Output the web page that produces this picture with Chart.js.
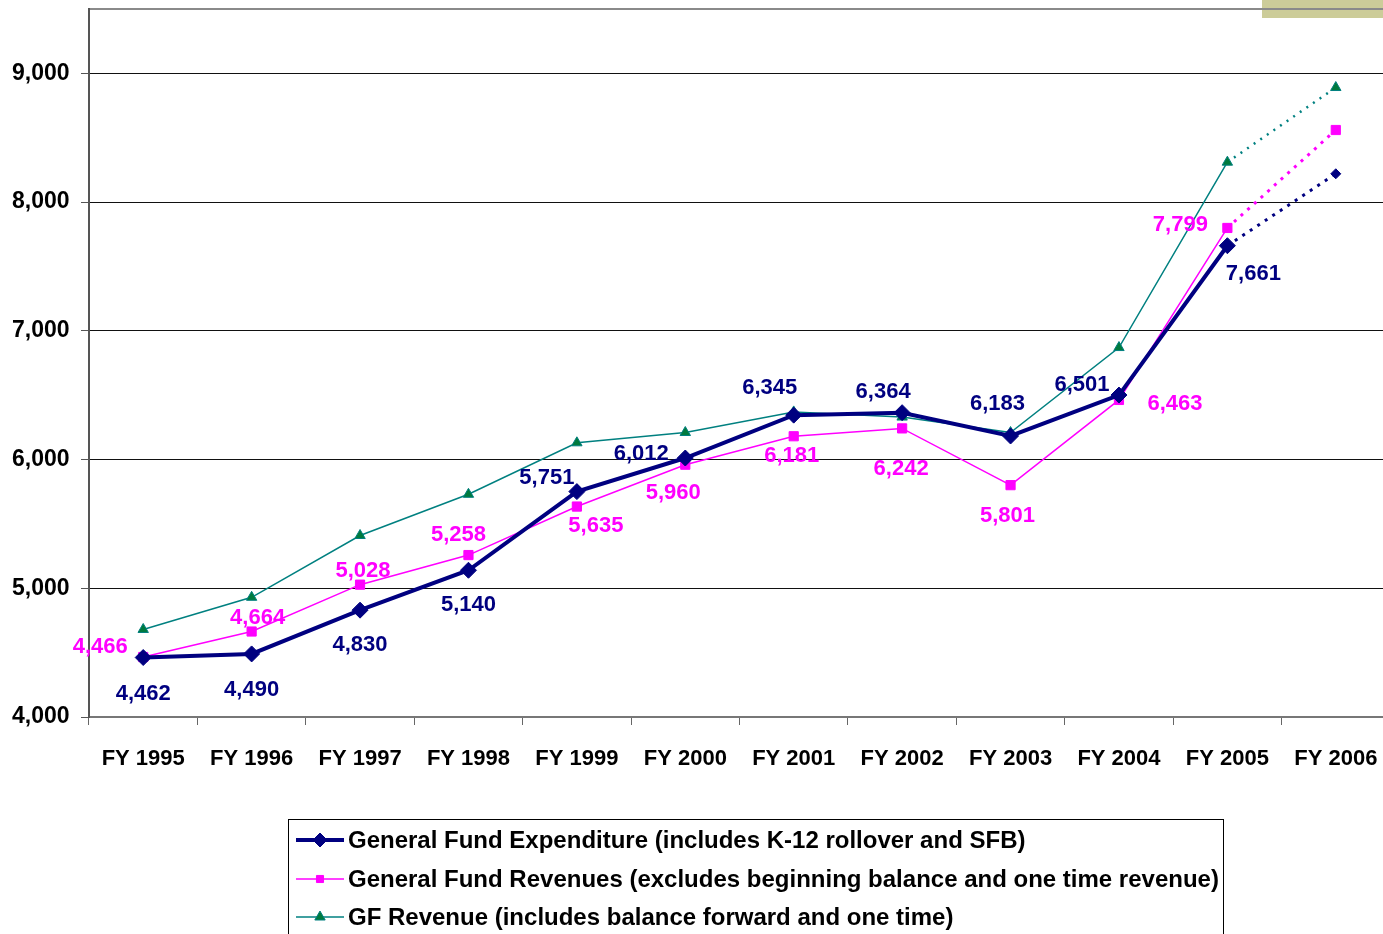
<!DOCTYPE html>
<html>
<head>
<meta charset="utf-8">
<script src="https://cdn.jsdelivr.net/npm/chart.js@4/dist/chart.umd.min.js"></script>
<style>
  html, body { margin: 0; padding: 0; background: #fff; overflow: hidden; width: 1383px; height: 934px; }
  #wrap { position: absolute; left: 0; top: 0; width: 1400px; height: 960px; }
</style>
</head>
<body>
<div id="wrap"><canvas id="c" width="1400" height="960"></canvas></div>
<script>
// ---- data ----
const categories = ["FY 1995","FY 1996","FY 1997","FY 1998","FY 1999","FY 2000","FY 2001","FY 2002","FY 2003","FY 2004","FY 2005","FY 2006"];
const expenditure = [4462, 4490, 4830, 5140, 5751, 6012, 6345, 6364, 6183, 6501, 7661, 8220];
const revenues    = [4466, 4664, 5028, 5258, 5635, 5960, 6181, 6242, 5801, 6463, 7799, 8560];
const gfRevenue   = [4680, 4930, 5410, 5730, 6130, 6210, 6370, 6330, 6210, 6870, 8310, 8890];
const seriesNames = [
  "General Fund Expenditure (includes K-12 rollover and SFB)",
  "General Fund Revenues (excludes beginning balance and one time revenue)",
  "GF Revenue (includes balance forward and one time)"
];
const yTicks = [4000, 5000, 6000, 7000, 8000, 9000];
const yAxisMin = 4000, yAxisMax = 9500;

// ---- styling / label placement (not data) ----
const FONT = '"Liberation Sans", Arial, Helvetica, sans-serif';
const NAVY = '#000080', MAGENTA = '#FF00FF', TEAL = '#008080', GREEN = '#007A3D';
const labelOffsets = [
  [[0,36],[0,36],[0,35],[0,35],[-30,-14],[-44,-4],[-24,-27],[-19,-21],[-13,-32],[-37,-10],[26,28],null],
  [[-43,-10],[6,-14],[3,-14],[-10,-20],[19,19],[-12,28],[-2,20],[-1,41],[-3,31],[56,4],[-47,-3],null],
  [null,null,null,null,null,null,null,null,null,null,null,null]
];
const labelColors = [NAVY, MAGENTA, TEAL];
const lastIdx = categories.length - 1;
const dottedSeg = (dash, w) => ({
  borderDash: c => c.p1DataIndex === lastIdx ? dash : undefined,
  borderWidth: c => c.p1DataIndex === lastIdx ? w : undefined
});

Chart.defaults.font.family = FONT;

const decoPlugin = {
  id: 'deco',
  beforeDraw(chart) {
    const ctx = chart.ctx;
    ctx.save();
    ctx.fillStyle = '#CCCC99';
    ctx.fillRect(1262, 0, 200, 18);
    ctx.restore();
  },
  afterDatasetsDraw(chart) {
    const ctx = chart.ctx;
    ctx.save();
    ctx.font = 'bold 22px ' + FONT;
    ctx.textAlign = 'center';
    ctx.textBaseline = 'middle';
    chart.data.datasets.forEach((ds, i) => {
      const meta = chart.getDatasetMeta(i);
      meta.data.forEach((pt, j) => {
        const off = labelOffsets[i][j];
        if (!off) return;
        ctx.fillStyle = labelColors[i];
        ctx.fillText(ds.data[j].toLocaleString('en-US'), pt.x + off[0], pt.y + off[1]);
      });
    });
    ctx.restore();
  },
  afterDraw(chart) {
    const ctx = chart.ctx;
    ctx.save();
    ctx.strokeStyle = '#000';
    ctx.lineWidth = 1;
    ctx.strokeRect(288.5, 819.5, 935, 200);
    const rows = [840, 879, 917];
    const legendRadius = [7, 5, 6];
    chart.data.datasets.forEach((ds, i) => {
      const y = rows[i];
      ctx.strokeStyle = ds.borderColor;
      ctx.lineWidth = ds.borderWidth;
      ctx.setLineDash([]);
      ctx.beginPath();
      ctx.moveTo(296, y); ctx.lineTo(344, y);
      ctx.stroke();
      ctx.fillStyle = ds.pointBackgroundColor;
      ctx.strokeStyle = ds.pointBorderColor;
      ctx.lineWidth = 1;
      Chart.helpers.drawPoint(ctx, { pointStyle: ds.pointStyle, radius: legendRadius[i], borderWidth: 1, rotation: 0 }, 320, y);
      ctx.fillStyle = '#000';
      ctx.font = 'bold 24px ' + FONT;
      ctx.textAlign = 'left';
      ctx.textBaseline = 'middle';
      ctx.fillText(seriesNames[i], 348, y + 1);
    });
    ctx.restore();
  }
};

new Chart(document.getElementById('c'), {
  type: 'line',
  data: {
    labels: categories,
    datasets: [
      {
        label: seriesNames[0], data: expenditure,
        borderColor: NAVY, borderWidth: 4,
        pointStyle: 'rectRot', pointRadius: [8,8,8,8,8,8,8,8,8,8,8,5],
        pointBackgroundColor: NAVY, pointBorderColor: NAVY, pointBorderWidth: 1,
        segment: dottedSeg([3, 6], 3), tension: 0, order: 1
      },
      {
        label: seriesNames[1], data: revenues,
        borderColor: MAGENTA, borderWidth: 1.5,
        pointStyle: 'rect', pointRadius: 6.5,
        pointBackgroundColor: MAGENTA, pointBorderColor: MAGENTA, pointBorderWidth: 1,
        segment: dottedSeg([3, 6], 3), tension: 0, order: 2
      },
      {
        label: seriesNames[2], data: gfRevenue,
        borderColor: TEAL, borderWidth: 1.5,
        pointStyle: 'triangle', pointRadius: 6,
        pointBackgroundColor: GREEN, pointBorderColor: TEAL, pointBorderWidth: 1,
        segment: dottedSeg([2, 6], 2.5), tension: 0, order: 3
      }
    ]
  },
  options: {
    responsive: false,
    animation: false,
    devicePixelRatio: 1,
    layout: { padding: { left: 12, top: 8, right: 10, bottom: 183 } },
    plugins: { legend: { display: false }, tooltip: { enabled: false } },
    scales: {
      x: {
        type: 'category',
        offset: true,
        grid: { offset: true, drawOnChartArea: false, drawTicks: true, tickLength: 8, color: '#666', lineWidth: 1 },
        border: { display: true, color: '#777', width: 2 },
        ticks: { color: '#000', font: { size: 22, weight: 'bold', lineHeight: 1.2 }, padding: 21, maxRotation: 0, autoSkip: false },
        afterFit(s) { s.height = 60; }
      },
      y: {
        min: yAxisMin, max: yAxisMax,
        afterBuildTicks(s) { s.ticks = yTicks.concat([yAxisMax]).map(v => ({ value: v })); },
        ticks: {
          color: '#000',
          crossAlign: 'far',
          font: { size: 23, weight: 'bold', lineHeight: 0.5 },
          padding: 0,
          callback: v => (v === yAxisMax ? '' : v.toLocaleString('en-US'))
        },
        grid: {
          color: c => (c.tick && c.tick.value === yAxisMax ? '#8a8a8a' : '#111'),
          tickColor: c => (c.tick && c.tick.value === yAxisMax ? 'rgba(0,0,0,0)' : '#555'),
          lineWidth: c => (c.tick && c.tick.value === yAxisMax ? 2 : 1),
          tickLength: 8
        },
        border: { display: true, color: '#555', width: 2 },
        afterFit(s) { s.width = 77; }
      }
    }
  },
  plugins: [decoPlugin]
});
</script>
</body>
</html>
